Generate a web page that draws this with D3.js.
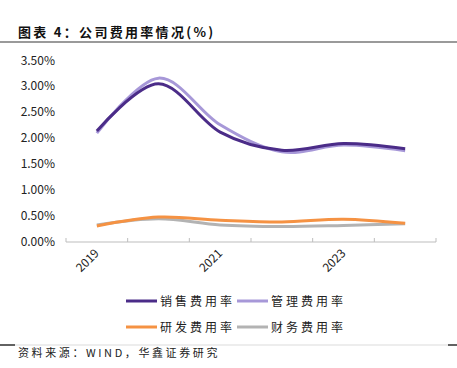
<!DOCTYPE html>
<html>
<head>
<meta charset="utf-8">
<script src="https://cdn.jsdelivr.net/npm/d3@7"></script>
<style>
  body { margin: 0; background: #fff; }
  text { font-family: "Noto Sans CJK SC", "Liberation Sans", sans-serif; }
</style>
</head>
<body>
<svg id="chart" width="457" height="368"></svg>
<script>
// categories and series (percent)
var years = ["2019", "2020", "2021", "2022", "2023", "2024"];
var tickYears = ["2019", "2021", "2023"];
var sales = [2.14, 3.05, 2.12, 1.77, 1.90, 1.80];
var admin = [2.10, 3.16, 2.26, 1.74, 1.87, 1.76];
var rnd = [0.31, 0.48, 0.42, 0.385, 0.44, 0.36];
var fin = [0.33, 0.45, 0.33, 0.30, 0.32, 0.35];
var yTicks = [0, 0.5, 1, 1.5, 2, 2.5, 3, 3.5];

var series = [
  { name: "销售费用率", values: sales, color: "#4b2c88" },
  { name: "管理费用率", values: admin, color: "#a798d8" },
  { name: "研发费用率", values: rnd, color: "#f59243" },
  { name: "财务费用率", values: fin, color: "#b3b3b3" }
];

var svg = d3.select("#chart");

// title + rules
svg.append("text")
  .attr("x", 18).attr("y", 37)
  .attr("font-size", 13).attr("font-weight", "bold")
  .attr("letter-spacing", 2.3)
  .attr("fill", "#111")
  .text("图表 4：公司费用率情况(%)");
svg.append("line").attr("x1", 0).attr("x2", 457).attr("y1", 42).attr("y2", 42)
  .attr("stroke", "#9a9a9a").attr("stroke-width", 2);

var x = d3.scaleBand().domain(years).range([66, 436]);
var y = d3.scaleLinear().domain([0, 3.5]).range([242, 60.5]);

// y labels
svg.append("g").selectAll("text").data(yTicks).join("text")
  .attr("x", 55).attr("y", function (d) { return y(d) + 4; })
  .attr("text-anchor", "end")
  .attr("font-size", 12).attr("fill", "#222")
  .attr("font-family", "Liberation Sans, sans-serif")
  .text(function (d) { return d.toFixed(2) + "%"; });

// x axis
var xAxis = d3.axisBottom(x).tickSize(0).tickFormat("");
var gx = svg.append("g").attr("transform", "translate(0,242)").call(xAxis);
gx.select(".domain").attr("stroke", "#bdbdbd").attr("d", "M66,0H436");
var edges = years.map(function (d) { return x(d); }).concat([x.range()[1]]);
gx.selectAll(".edge").data(edges).join("line")
  .attr("x1", function (d) { return d; }).attr("x2", function (d) { return d; })
  .attr("y1", -4).attr("y2", 0)
  .attr("stroke", "#bdbdbd");

svg.append("g").selectAll("text").data(tickYears).join("text")
  .attr("transform", function (d) {
    return "translate(" + (x(d) + x.bandwidth() / 2 + 3) + ",254) rotate(-45)";
  })
  .attr("text-anchor", "end")
  .attr("font-size", 12).attr("fill", "#222")
  .attr("font-family", "Liberation Sans, sans-serif")
  .text(function (d) { return d; });

// lines
var line = d3.line()
  .x(function (d, i) { return x(years[i]) + x.bandwidth() / 2; })
  .y(function (d) { return y(d); })
  .curve(d3.curveCardinal.tension(0));

var drawOrder = [series[3], series[2], series[1], series[0]];
svg.append("g").selectAll("path").data(drawOrder).join("path")
  .attr("d", function (s) { return line(s.values); })
  .attr("fill", "none")
  .attr("stroke", function (s) { return s.color; })
  .attr("stroke-width", 3)
  .attr("stroke-linecap", "butt");

// legend
var legPos = [[126, 301], [237, 301], [126, 327], [237, 327]];
var leg = svg.append("g").selectAll("g").data(series).join("g")
  .attr("transform", function (s, i) { return "translate(" + legPos[i][0] + "," + legPos[i][1] + ")"; });
leg.append("line").attr("x1", 0).attr("x2", 31).attr("y1", 0).attr("y2", 0)
  .attr("stroke", function (s) { return s.color; }).attr("stroke-width", 3);
leg.append("text").attr("x", 34).attr("y", 4.5)
  .attr("font-size", 12).attr("letter-spacing", 3).attr("fill", "#222")
  .text(function (s) { return s.name; });

// bottom rule + source
svg.append("line").attr("x1", 0).attr("x2", 457).attr("y1", 345).attr("y2", 345)
  .attr("stroke", "#ededed").attr("stroke-width", 2);
svg.append("line").attr("x1", 0).attr("x2", 15).attr("y1", 345).attr("y2", 345)
  .attr("stroke", "#333").attr("stroke-width", 1.5);
svg.append("line").attr("x1", 448).attr("x2", 457).attr("y1", 345).attr("y2", 345)
  .attr("stroke", "#333").attr("stroke-width", 1.5);
svg.append("text")
  .attr("x", 18).attr("y", 357)
  .attr("font-size", 11).attr("letter-spacing", 2.6).attr("fill", "#222")
  .text("资料来源：WIND，华鑫证券研究");
</script>
</body>
</html>
